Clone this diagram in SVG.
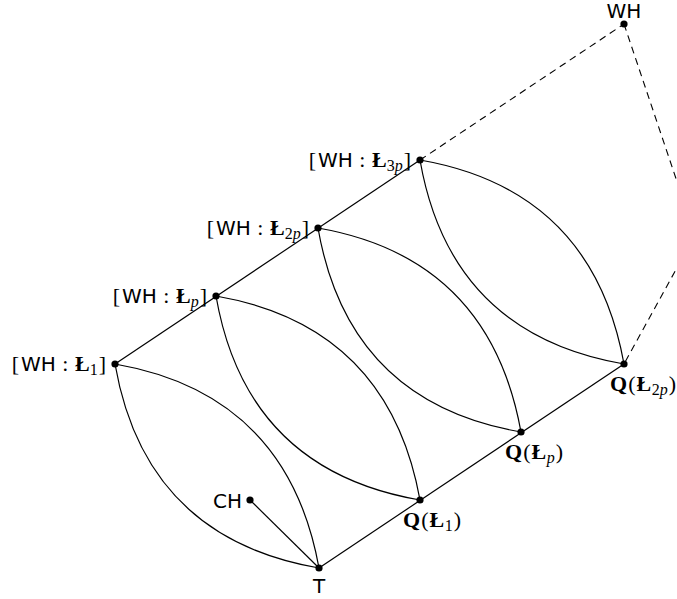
<svg xmlns="http://www.w3.org/2000/svg" width="677" height="599" viewBox="0 0 677 599">
<style>
.ln{fill:none;stroke:#000;stroke-width:1.2}
.ds{fill:none;stroke:#000;stroke-width:1.1;stroke-dasharray:7 5}
.dot{fill:#000}
text{font-size:22px;fill:#000}
.sf{font-family:"DejaVu Sans",sans-serif;font-size:20px}
.m{font-family:"Liberation Serif",serif}
.b{font-family:"Liberation Serif",serif;font-weight:bold}
.i{font-family:"Liberation Serif",serif;font-style:italic}
.s{font-size:16px}
</style>
<rect width="677" height="599" fill="#fff"/>
<g id="connectors">
<line class="ln" x1="115" y1="364" x2="420" y2="160"/>
<line class="ln" x1="319" y1="568" x2="624" y2="364"/>
<line class="ln" x1="250" y1="500" x2="319" y2="568"/>
<path class="ds" d="M420,160 L624,24"/>
<path class="ds" d="M624,24 L695,235 L624,364"/>
<path class="ln" d="M115,364 C230,384 298,452 319,568"/>
<path class="ln" d="M115,364 C135,479 203,548 319,568"/>
<path class="ln" d="M216,296 C331,316 399,384 420,500"/>
<path class="ln" d="M216,296 C236,411 304,480 420,500"/>
<path class="ln" d="M318,228 C433,248 500,316 521,432"/>
<path class="ln" d="M318,228 C338,343 405,412 521,432"/>
<path class="ln" d="M420,160 C535,180 603,248 624,364"/>
<path class="ln" d="M420,160 C440,275 508,344 624,364"/>
</g>
<g id="n-wh1">
<circle class="dot" cx="115" cy="364" r="3.6"/>
<text x="106" y="371" text-anchor="end"><tspan class="m">[</tspan><tspan class="sf" dx="2">WH</tspan><tspan class="m" dx="6.5">:</tspan><tspan class="b" dx="6.5">Ł</tspan><tspan class="m s" dy="4">1</tspan><tspan class="m" dy="-4" dx="1">]</tspan></text>
</g>
<g id="n-whp">
<circle class="dot" cx="216" cy="296" r="3.6"/>
<text x="207" y="303" text-anchor="end"><tspan class="m">[</tspan><tspan class="sf" dx="2">WH</tspan><tspan class="m" dx="6.5">:</tspan><tspan class="b" dx="6.5">Ł</tspan><tspan class="i s" dy="4">p</tspan><tspan class="m" dy="-4" dx="1">]</tspan></text>
</g>
<g id="n-wh2p">
<circle class="dot" cx="318" cy="228" r="3.6"/>
<text x="309" y="235" text-anchor="end"><tspan class="m">[</tspan><tspan class="sf" dx="2">WH</tspan><tspan class="m" dx="6.5">:</tspan><tspan class="b" dx="6.5">Ł</tspan><tspan class="m s" dy="4">2</tspan><tspan class="i s">p</tspan><tspan class="m" dy="-4" dx="1">]</tspan></text>
</g>
<g id="n-wh3p">
<circle class="dot" cx="420" cy="160" r="3.6"/>
<text x="411" y="167" text-anchor="end"><tspan class="m">[</tspan><tspan class="sf" dx="2">WH</tspan><tspan class="m" dx="6.5">:</tspan><tspan class="b" dx="6.5">Ł</tspan><tspan class="m s" dy="4">3</tspan><tspan class="i s">p</tspan><tspan class="m" dy="-4" dx="1">]</tspan></text>
</g>
<g id="n-wh">
<circle class="dot" cx="624" cy="24" r="3.6"/>
<text class="sf" x="624" y="18" text-anchor="middle">WH</text>
</g>
<g id="n-q1">
<circle class="dot" cx="420" cy="500" r="3.6"/>
<text x="403" y="527"><tspan class="b">Q</tspan><tspan class="m" dx="1">(</tspan><tspan class="b" dx="1">Ł</tspan><tspan class="m s" dy="4" dx="0.5">1</tspan><tspan class="m" dy="-4" dx="1">)</tspan></text>
</g>
<g id="n-qp">
<circle class="dot" cx="521" cy="432" r="3.6"/>
<text x="505" y="459"><tspan class="b">Q</tspan><tspan class="m" dx="1">(</tspan><tspan class="b" dx="1">Ł</tspan><tspan class="i s" dy="4" dx="0.5">p</tspan><tspan class="m" dy="-4" dx="1">)</tspan></text>
</g>
<g id="n-q2p">
<circle class="dot" cx="624" cy="364" r="3.6"/>
<text x="610" y="391"><tspan class="b">Q</tspan><tspan class="m" dx="1">(</tspan><tspan class="b" dx="1">Ł</tspan><tspan class="m s" dy="4" dx="0.5">2</tspan><tspan class="i s">p</tspan><tspan class="m" dy="-4" dx="1">)</tspan></text>
</g>
<g id="n-ch">
<circle class="dot" cx="250" cy="500" r="3.6"/>
<text class="sf" x="242" y="508" text-anchor="end">CH</text>
</g>
<g id="n-t">
<circle class="dot" cx="319" cy="568" r="3.6"/>
<text class="sf" x="319" y="593" text-anchor="middle">T</text>
</g>
</svg>
